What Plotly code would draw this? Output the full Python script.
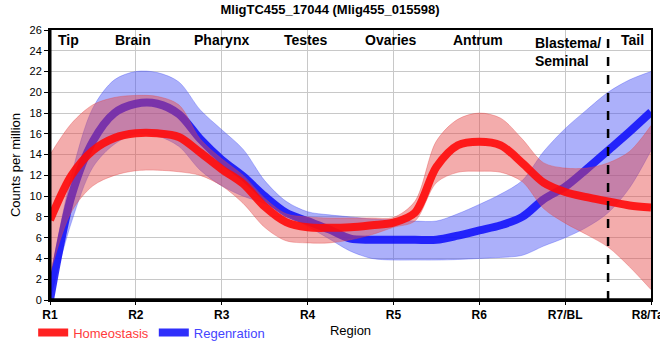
import plotly.graph_objects as go

x_pos = [1.0, 1.25, 1.5, 1.75, 2.0, 2.25, 2.5, 2.75, 3.0, 3.25, 3.5, 3.75, 4.0, 4.25,
         4.5, 4.75, 5.0, 5.25, 5.5, 5.75, 6.0, 6.25, 6.5, 6.75, 7.0, 7.25, 7.5, 7.75, 8.0]

homeo_mean = [7.7, 12.0, 14.4, 15.6, 16.05, 16.05, 15.7, 14.2, 12.6, 11.2, 9.0, 7.5, 7.0, 6.95,
              7.0, 7.2, 7.45, 8.4, 12.8, 14.9, 15.25, 14.9, 13.2, 11.3, 10.4, 9.9, 9.5, 9.1, 8.9]
homeo_upper = [14.0, 17.0, 18.8, 19.5, 19.7, 19.6, 18.8, 15.5, 13.6, 12.0, 9.8, 8.3, 8.0, 7.9,
               7.9, 7.9, 7.95, 9.5, 15.3, 17.4, 18.0, 17.5, 15.5, 13.2, 12.7, 12.7, 13.2, 14.3, 16.8]
homeo_lower = [2.5, 8.5, 11.0, 12.0, 12.45, 12.5, 12.35, 12.0, 11.0, 9.3, 7.0, 5.7, 5.5, 5.5,
               5.8, 6.3, 7.0, 7.6, 11.3, 12.3, 12.4, 12.3, 11.4, 8.8, 7.4, 6.3, 5.1, 3.2, 1.0]

regen_mean = [0.0, 10.0, 15.3, 18.0, 18.9, 18.9, 17.9, 15.5, 13.5, 11.9, 10.0, 8.4, 7.6, 6.8,
              5.9, 5.8, 5.8, 5.8, 5.8, 6.2, 6.7, 7.2, 8.0, 9.7, 10.9, 12.6, 14.4, 16.2, 18.1]
regen_upper = [2.0, 12.0, 18.5, 21.2, 22.0, 21.9, 21.0, 18.3, 16.4, 14.5, 11.5, 9.5, 8.5, 8.2,
               8.0, 7.8, 7.7, 7.6, 7.6, 8.3, 9.2, 10.2, 11.5, 14.3, 16.5, 18.3, 20.0, 21.2, 22.0]
regen_lower = [0.0, 7.5, 12.8, 15.0, 16.0, 15.8, 14.8, 12.5, 11.0, 10.0, 9.3, 8.2, 7.1, 5.9,
               4.7, 4.0, 3.85, 3.85, 3.85, 3.9, 4.0, 4.1, 4.3, 5.2, 6.0, 7.0, 8.4, 10.8, 14.4]

tick_vals = [1, 2, 3, 4, 5, 6, 7, 8]
tick_text = ["R1", "R2", "R3", "R4", "R5", "R6", "R7/BL", "R8/Tail"]

region_names = ["Tip", "Brain", "Pharynx", "Testes", "Ovaries", "Antrum", "Tail"]
region_x = [1.21, 1.97, 3.0, 3.98, 4.97, 5.98, 7.78]
blastema_label = "Blastema/<br>Seminal"
blastema_x = 6.63
boundary_x = 7.5

RED_LINE = "rgba(255,10,10,0.9)"
RED_BAND = "rgba(228,70,70,0.45)"
BLUE_LINE = "rgba(10,10,250,0.85)"
BLUE_BAND = "rgba(70,80,245,0.45)"

fig = go.Figure()
spl = dict(shape="spline", smoothing=0.9)

fig.add_trace(go.Scatter(x=x_pos, y=regen_lower, mode="lines", line=dict(width=0.6, color="rgba(70,80,245,0.6)", **spl),
                         showlegend=False, hoverinfo="skip"))
fig.add_trace(go.Scatter(x=x_pos, y=regen_upper, mode="lines", line=dict(width=0.6, color="rgba(70,80,245,0.6)", **spl),
                         fill="tonexty", fillcolor=BLUE_BAND, showlegend=False, hoverinfo="skip"))
fig.add_trace(go.Scatter(x=x_pos, y=regen_mean, mode="lines", line=dict(width=8, color=BLUE_LINE, **spl),
                         name="<span style='color:#4444ff'>Regenration</span>", legendrank=2))
fig.add_trace(go.Scatter(x=x_pos, y=homeo_lower, mode="lines", line=dict(width=0.6, color="rgba(228,70,70,0.6)", **spl),
                         showlegend=False, hoverinfo="skip"))
fig.add_trace(go.Scatter(x=x_pos, y=homeo_upper, mode="lines", line=dict(width=0.6, color="rgba(228,70,70,0.6)", **spl),
                         fill="tonexty", fillcolor=RED_BAND, showlegend=False, hoverinfo="skip"))
fig.add_trace(go.Scatter(x=x_pos, y=homeo_mean, mode="lines", line=dict(width=8, color=RED_LINE, **spl),
                         name="<span style='color:#ff3b3b'>Homeostasis</span>", legendrank=1))

annotations = []
for name, xr in zip(region_names, region_x):
    annotations.append(dict(x=xr, y=25.0, xref="x", yref="y", text="<b>" + name + "</b>",
                            showarrow=False, font=dict(size=14, color="black"), yanchor="middle"))
annotations.append(dict(x=blastema_x, y=25.75, xref="x", yref="y", text="<b>" + blastema_label + "</b>",
                        showarrow=False, font=dict(size=14, color="black"), xanchor="left", yanchor="top",
                        align="left"))

fig.update_layout(
    width=660, height=360,
    margin=dict(l=50, r=9, t=30, b=60),
    paper_bgcolor="white", plot_bgcolor="white",
    font=dict(family="Liberation Sans, Arial, sans-serif", size=11, color="black"),
    title=dict(text="<b>MligTC455_17044 (Mlig455_015598)</b>", x=0.5, xanchor="center", y=0.975,
               yanchor="middle", font=dict(size=13, color="black")),
    xaxis=dict(range=[1, 8], tickvals=tick_vals, ticktext=["<b>" + t + "</b>" for t in tick_text],
               tickfont=dict(size=12, color="black"), showgrid=True, gridcolor="#c8c8c8", gridwidth=1,
               showline=True, linecolor="black", linewidth=2, mirror=True, zeroline=False,
               ticks="outside", ticklen=3, tickcolor="black", automargin=False,
               ticklabeloverflow="allow",
               title=dict(text="Region", font=dict(size=13), standoff=4)),
    yaxis=dict(range=[0, 26], dtick=2, showgrid=True, gridcolor="#c8c8c8", gridwidth=1,
               showline=True, linecolor="black", linewidth=2, mirror=True, zeroline=False,
               ticks="outside", ticklen=4, tickcolor="black", tickfont=dict(size=11),
               title=dict(text="Counts per million", font=dict(size=13), standoff=6), automargin=False),
    legend=dict(orientation="h", x=-0.028, xanchor="left", y=-0.065, yanchor="top",
                font=dict(size=13), bgcolor="rgba(0,0,0,0)", itemwidth=30, traceorder="normal"),
    annotations=annotations,
    shapes=[
        dict(type="line", xref="x", yref="paper", x0=boundary_x, x1=boundary_x, y0=0, y1=1,
             line=dict(color="black", width=2.5, dash="dash")),
        dict(type="line", xref="paper", yref="paper", x0=0, x1=1, y0=0, y1=0,
             line=dict(color="black", width=3.5)),
        dict(type="line", xref="paper", yref="paper", x0=0, x1=0, y0=0, y1=1,
             line=dict(color="black", width=3)),
    ],
)

fig.write_html("out.html", config={"displayModeBar": False},
               post_script="document.body.style.margin='0';")
